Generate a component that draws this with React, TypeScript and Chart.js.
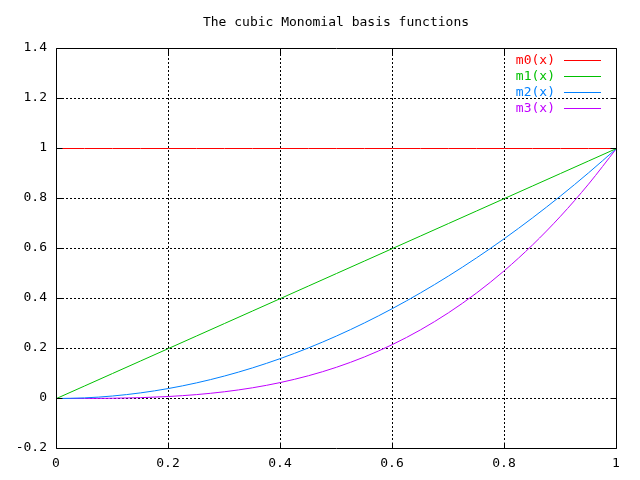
import React, { useEffect, useRef } from "react";
import { Chart, registerables } from "chart.js";

Chart.register(...registerables);

const TITLE = "The cubic Monomial basis functions";
const xValues = [0, 0.05, 0.1, 0.15, 0.2, 0.25, 0.3, 0.35, 0.4, 0.45, 0.5, 0.55, 0.6, 0.65, 0.7, 0.75, 0.8, 0.85, 0.9, 0.95, 1];
const m0Values = [1, 1, 1, 1, 1, 1, 1, 1, 1, 1, 1, 1, 1, 1, 1, 1, 1, 1, 1, 1, 1];
const m1Values = [0, 0.05, 0.1, 0.15, 0.2, 0.25, 0.3, 0.35, 0.4, 0.45, 0.5, 0.55, 0.6, 0.65, 0.7, 0.75, 0.8, 0.85, 0.9, 0.95, 1];
const m2Values = [0, 0.0025, 0.01, 0.0225, 0.04, 0.0625, 0.09, 0.1225, 0.16, 0.2025, 0.25, 0.3025, 0.36, 0.4225, 0.49, 0.5625, 0.64, 0.7225, 0.81, 0.9025, 1];
const m3Values = [0, 0.000125, 0.001, 0.003375, 0.008, 0.015625, 0.027, 0.042875, 0.064, 0.091125, 0.125, 0.166375, 0.216, 0.274625, 0.343, 0.421875, 0.512, 0.614125, 0.729, 0.857375, 1];
const seriesLabels = ["m0(x)", "m1(x)", "m2(x)", "m3(x)"];
const seriesColors = ["#ff0000", "#00c000", "#0080ff", "#c000ff"];
const xTicks = [0, 0.2, 0.4, 0.6, 0.8, 1];
const yTicks = [-0.2, 0, 0.2, 0.4, 0.6, 0.8, 1, 1.2, 1.4];

const FONT = "'DejaVu Sans Mono', monospace";

const gnuplotFrame = {
  id: "gnuplotFrame",
  beforeDatasetsDraw(chart: any) {
    const { ctx, chartArea: a, scales } = chart;
    const xs = scales.x, ys = scales.y;
    ctx.save();
    // title
    ctx.fillStyle = "#000";
    ctx.font = "13px " + FONT;
    ctx.textAlign = "center";
    ctx.textBaseline = "middle";
    ctx.fillText(TITLE, 336, 23);
    // dotted grid
    ctx.strokeStyle = "#000";
    ctx.lineWidth = 1;
    ctx.setLineDash([2, 2]);
    xTicks.forEach((v) => {
      const px = Math.round(xs.getPixelForValue(v)) + 0.5;
      if (px <= a.left + 1 || px >= a.right - 1) return;
      ctx.beginPath();
      ctx.moveTo(px, a.top + 6);
      ctx.lineTo(px, a.bottom - 6);
      ctx.stroke();
    });
    yTicks.forEach((v) => {
      const py = Math.round(ys.getPixelForValue(v)) + 0.5;
      if (py <= a.top + 1 || py >= a.bottom - 1) return;
      ctx.beginPath();
      ctx.moveTo(a.left + 6, py);
      ctx.lineTo(a.right - 6, py);
      ctx.stroke();
    });
    ctx.restore();
    // shift datasets half a pixel for crisp 1px lines
    ctx.save();
    ctx.translate(0.5, 0.5);
  },
  afterDatasetsDraw(chart: any) {
    const { ctx, chartArea: a, scales } = chart;
    ctx.restore();
    const xs = scales.x, ys = scales.y;
    ctx.save();
    ctx.strokeStyle = "#000";
    ctx.lineWidth = 1;
    ctx.setLineDash([]);
    const L = Math.round(a.left) + 0.5, R = Math.round(a.right) + 0.5;
    const T = Math.round(a.top) + 0.5, B = Math.round(a.bottom) + 0.5;
    ctx.beginPath();
    ctx.rect(L, T, R - L, B - T);
    ctx.stroke();
    const tl = 6;
    xTicks.forEach((v) => {
      const px = Math.round(xs.getPixelForValue(v)) + 0.5;
      ctx.beginPath();
      ctx.moveTo(px, B); ctx.lineTo(px, B - tl);
      ctx.moveTo(px, T); ctx.lineTo(px, T + tl);
      ctx.stroke();
    });
    yTicks.forEach((v) => {
      const py = Math.round(ys.getPixelForValue(v)) + 0.5;
      ctx.beginPath();
      ctx.moveTo(L, py); ctx.lineTo(L + tl, py);
      ctx.moveTo(R, py); ctx.lineTo(R - tl, py);
      ctx.stroke();
    });
    // legend
    ctx.font = "13px " + FONT;
    ctx.textAlign = "right";
    ctx.textBaseline = "middle";
    seriesLabels.forEach((lab, i) => {
      const y = 60 + i * 16;
      ctx.fillStyle = seriesColors[i];
      ctx.fillText(lab, 555, y + 0.5);
      ctx.fillRect(564, y, 37, 1);
    });
    ctx.restore();
  },
};

export default function App() {
  const ref = useRef<HTMLCanvasElement>(null);
  useEffect(() => {
    document.body.style.margin = "0";
    const series = [m0Values, m1Values, m2Values, m3Values];
    const chart = new Chart(ref.current!, {
      type: "line",
      data: {
        datasets: series.map((vals, i) => ({
          label: seriesLabels[i],
          data: xValues.map((x, j) => ({ x, y: vals[j] })),
          borderColor: seriesColors[i],
          backgroundColor: seriesColors[i],
          borderWidth: 1,
          pointRadius: 0,
          fill: false,
          cubicInterpolationMode: "monotone" as const,
        })),
      },
      options: {
        animation: false,
        responsive: false,
        devicePixelRatio: 1,
        layout: { padding: { left: 0, right: 24, top: 48, bottom: 0 } },
        plugins: {
          legend: { display: false },
          tooltip: { enabled: false },
          title: { display: false },
        },
        scales: {
          x: {
            type: "linear",
            min: 0,
            max: 1,
            afterBuildTicks: (s: any) => { s.ticks = xTicks.map((v) => ({ value: v })); },
            afterFit: (s: any) => { s.height = 32; },
            grid: { display: false, drawTicks: false },
            border: { display: false },
            ticks: {
              color: "#000",
              padding: 8,
              maxRotation: 0,
              font: { family: FONT, size: 13 },
              callback: (v: any) => String(Number(Number(v).toFixed(1))),
            },
          },
          y: {
            type: "linear",
            min: -0.2,
            max: 1.4,
            afterBuildTicks: (s: any) => { s.ticks = yTicks.map((v) => ({ value: v })); },
            afterFit: (s: any) => { s.width = 56; },
            grid: { display: false, drawTicks: false },
            border: { display: false },
            ticks: {
              color: "#000",
              padding: 9,
              font: { family: FONT, size: 13 },
              callback: (v: any) => String(Number(Number(v).toFixed(1))),
            },
          },
        },
      },
      plugins: [gnuplotFrame],
    });
    return () => chart.destroy();
  }, []);
  return <canvas ref={ref} width={640} height={480} style={{ display: "block" }} />;
}
